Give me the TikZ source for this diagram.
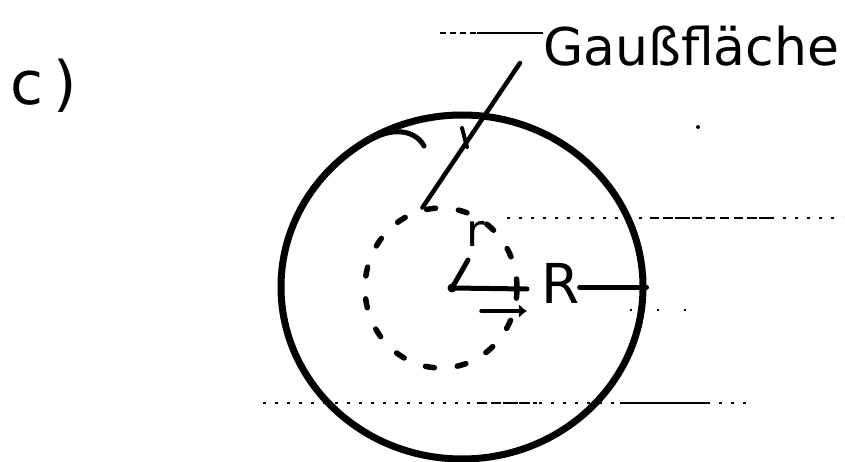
\documentclass[tikz,border=0pt]{standalone}
\usepackage{fontspec}
\setmainfont{DejaVu Sans}
\usetikzlibrary{shapes.geometric,arrows.meta}
\begin{document}
\begin{tikzpicture}[x=1pt,y=-1pt,
  ink/.style={line width=5pt,line cap=round,line join=round},
  rule/.style={line width=1.8pt,dash pattern=on 3pt off 9pt},
  lbl/.style={anchor=base west,inner sep=0pt}]
\useasboundingbox (0,0) rectangle (845,462);
% ruled-paper remnants
\draw[rule,dash pattern=on 6pt off 4pt] (440,33) -- (476,33);
\draw[line width=2.2pt] (477,33) -- (543,33);
\draw[rule] (507,218) -- (843,218);
\draw[line width=2pt,dash pattern=on 9pt off 5pt] (650,218) -- (773,218);
\draw[line width=1.4pt,dash pattern=on 2pt off 25pt] (630,310) -- (703,310);
\draw[rule] (263,403) -- (753,403);
\draw[line width=2.4pt,dash pattern=on 10pt off 4pt] (477,403) -- (537,403);
\draw[line width=2.6pt] (620,403) -- (707,403);
\fill (698,127) circle (2pt);
% circles
\node[draw,ellipse,line width=7pt,minimum width=362pt,minimum height=344pt,inner sep=0pt] (outer) at (462,287) {};
\node[draw,ellipse,line width=5.5pt,line cap=round,dash pattern=on 9pt off 23pt,minimum width=152pt,minimum height=160pt,inner sep=0pt] (gauss) at (441,288) {};
% labels
\node[lbl,font=\fontsize{60}{70}\selectfont] (part) at (10,105) {c\,)};
\node[lbl,font=\fontsize{52}{60}\selectfont] (name) at (543,66) {Gaußfläche};
\node[lbl,font=\fontsize{55}{60}\selectfont] (R) at (541,303) {R};
\node[lbl,font=\fontsize{45}{50}\selectfont] (r) at (466,247) {r};
% leader to Gauss surface
\coordinate (lt) at (520,63);
\draw[ink,line width=4.5pt] (gauss.103) -- (lt);
\draw[ink,line width=4pt] (462,128) -- (467,147);
\draw[ink] (374,138) .. controls (395,127) and (416,131) .. (424,146);
% radii
\coordinate (ctr) at (452,288);
\coordinate (re) at (527,289);
\draw[ink] (ctr) -- (re);
\draw[ink] (ctr) -- (468,260);
\fill (ctr) circle (4.5pt);
\draw[ink] (R.east |- outer.east) -- (outer.east);
\coordinate (a1) at (481,311);
\coordinate (a2) at (527,311);
\draw[line width=3.5pt,line cap=round,-{Latex[length=8pt,width=14pt]}] (a1) -- (a2);
\end{tikzpicture}
\end{document}
